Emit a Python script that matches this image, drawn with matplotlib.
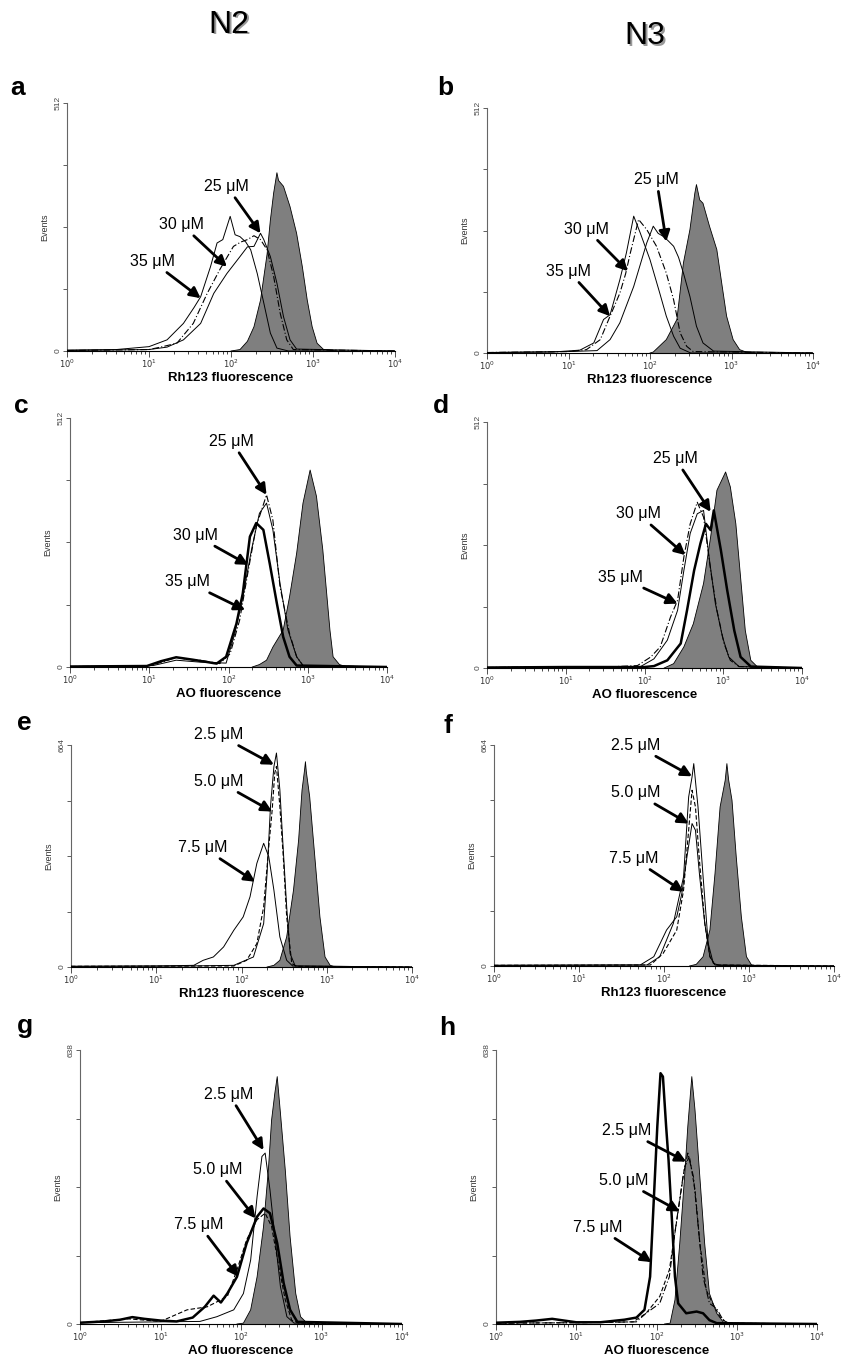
import numpy as np
import matplotlib
matplotlib.use("Agg")
import matplotlib.pyplot as plt

plt.rcParams['font.family'] = ['Liberation Sans', 'DejaVu Sans']

# ---------------- data (x in log10 fluorescence decades, y in events) -------------
panel_ids = ['a', 'b', 'c', 'd', 'e', 'f', 'g', 'h']
column_titles = ['N2', 'N3']
y_max = {'a': 512, 'b': 512, 'c': 512, 'd': 512, 'e': 664, 'f': 664, 'g': 638, 'h': 638}
x_labels = {'a': 'Rh123 fluorescence', 'b': 'Rh123 fluorescence',
            'c': 'AO fluorescence', 'd': 'AO fluorescence',
            'e': 'Rh123 fluorescence', 'f': 'Rh123 fluorescence',
            'g': 'AO fluorescence', 'h': 'AO fluorescence'}
x_tick_values = [1, 10, 100, 1000, 10000]
x_tick_labels = ['$10^{0}$', '$10^{1}$', '$10^{2}$', '$10^{3}$', '$10^{4}$']
conc_high = ['25 μM', '30 μM', '35 μM']
conc_low = ['2.5 μM', '5.0 μM', '7.5 μM']

# panel a
a_ctrl_logx = [2.0, 2.11, 2.20, 2.28, 2.36, 2.44, 2.48, 2.52, 2.56, 2.58, 2.64, 2.72, 2.80, 2.87, 2.93, 2.99, 3.05, 3.13, 3.3]
a_ctrl_y = [0, 3, 20, 50, 105, 200, 270, 326, 368, 352, 340, 298, 243, 174, 105, 50, 16, 3, 0]
a_25_logx = [0.0, 1.0, 1.22, 1.42, 1.63, 1.79, 1.95, 2.11, 2.20, 2.28, 2.36, 2.40, 2.48, 2.56, 2.64, 2.72, 2.80, 4.0]
a_25_y = [1, 3, 8, 23, 57, 119, 160, 195, 215, 216, 243, 230, 195, 140, 71, 23, 4, 0]
a_30_logx = [0.0, 1.0, 1.14, 1.34, 1.54, 1.71, 1.87, 2.03, 2.12, 2.20, 2.28, 2.36, 2.44, 2.52, 2.60, 2.68, 2.76, 4.0]
a_30_y = [1, 3, 8, 16, 57, 119, 170, 216, 225, 230, 238, 230, 209, 154, 78, 23, 3, 0]
a_35_logx = [0.0, 0.6, 1.0, 1.22, 1.42, 1.55, 1.63, 1.75, 1.83, 1.90, 1.99, 2.05, 2.11, 2.18, 2.24, 2.32, 2.40, 2.48, 2.56, 2.7, 4.0]
a_35_y = [2, 3, 9, 23, 57, 90, 112, 174, 223, 230, 278, 240, 236, 225, 209, 160, 99, 37, 6, 0, 0]

# panel b
b_ctrl_logx = [2.0, 2.04, 2.20, 2.33, 2.41, 2.49, 2.55, 2.57, 2.61, 2.65, 2.73, 2.82, 2.88, 2.94, 3.02, 3.10, 3.18, 3.3]
b_ctrl_y = [0, 2, 28, 70, 188, 258, 334, 352, 320, 313, 265, 216, 146, 77, 28, 7, 2, 0]
b_25_logx = [0.0, 1.0, 1.35, 1.51, 1.63, 1.80, 1.96, 2.04, 2.10, 2.16, 2.22, 2.29, 2.35, 2.41, 2.49, 2.57, 2.65, 2.78, 4.0]
b_25_y = [1, 3, 5, 28, 63, 139, 230, 265, 250, 244, 235, 223, 200, 167, 118, 56, 21, 4, 0]
b_30_logx = [0.0, 1.0, 1.22, 1.39, 1.51, 1.63, 1.70, 1.76, 1.86, 1.96, 2.08, 2.20, 2.29, 2.37, 2.45, 2.53, 4.0]
b_30_y = [1, 3, 7, 28, 77, 125, 165, 210, 279, 258, 223, 167, 111, 42, 14, 3, 0]
b_35_logx = [0.0, 0.8, 1.14, 1.31, 1.43, 1.51, 1.55, 1.63, 1.71, 1.80, 1.88, 2.00, 2.12, 2.20, 2.29, 2.37, 2.5, 4.0]
b_35_y = [1, 2, 6, 21, 70, 80, 104, 153, 209, 286, 251, 195, 125, 77, 35, 10, 0, 0]

# panel c
c_ctrl_logx = [2.3, 2.39, 2.48, 2.56, 2.69, 2.77, 2.86, 2.94, 3.03, 3.11, 3.19, 3.28, 3.32, 3.40, 3.5]
c_ctrl_y = [0, 5, 14, 41, 76, 144, 234, 337, 405, 351, 241, 76, 21, 5, 0]
c_25_logx = [0.0, 0.9, 1.01, 1.2, 1.34, 1.5, 1.64, 1.89, 2.02, 2.14, 2.25, 2.35, 2.48, 2.56, 2.65, 2.77, 2.86, 2.94, 4.0]
c_25_y = [1, 2, 3, 12, 20, 15, 14, 7, 27, 96, 199, 289, 354, 302, 165, 69, 21, 3, 0]
c_30_logx = [0.0, 1.05, 1.34, 1.64, 1.97, 2.08, 2.18, 2.29, 2.39, 2.48, 2.56, 2.65, 2.75, 2.86, 2.94, 4.0]
c_30_y = [1, 3, 14, 10, 8, 69, 144, 241, 316, 337, 282, 172, 76, 21, 3, 0]
c_35_logx = [0.0, 0.97, 1.15, 1.34, 1.55, 1.85, 1.97, 2.10, 2.18, 2.27, 2.35, 2.44, 2.52, 2.61, 2.69, 2.77, 2.86, 4.0]
c_35_y = [1, 2, 12, 20, 15, 7, 21, 89, 151, 268, 296, 282, 213, 131, 62, 21, 3, 0]

# panel d
d_ctrl_logx = [2.25, 2.37, 2.50, 2.62, 2.75, 2.84, 2.92, 3.03, 3.09, 3.16, 3.22, 3.28, 3.35, 3.43, 3.5]
d_ctrl_y = [0, 9, 44, 92, 176, 273, 370, 408, 377, 300, 189, 78, 16, 3, 0]
d_25_logx = [0.0, 1.0, 2.0, 2.12, 2.29, 2.46, 2.54, 2.63, 2.71, 2.78, 2.84, 2.88, 2.97, 3.05, 3.14, 3.22, 3.35, 4.0]
d_25_y = [1, 2, 2, 4, 16, 51, 120, 203, 259, 300, 287, 328, 245, 162, 78, 23, 3, 0]
d_30_logx = [0.0, 1.0, 1.95, 2.12, 2.29, 2.42, 2.50, 2.58, 2.67, 2.75, 2.82, 2.90, 2.99, 3.07, 3.2, 4.0]
d_30_y = [1, 2, 3, 19, 58, 120, 203, 280, 321, 328, 231, 134, 65, 23, 3, 0]
d_35_logx = [0.0, 1.0, 1.5, 1.91, 2.08, 2.20, 2.33, 2.42, 2.50, 2.58, 2.67, 2.75, 2.84, 2.92, 3.01, 3.09, 3.2, 4.0]
d_35_y = [1, 3, 2, 5, 23, 44, 106, 141, 231, 300, 345, 314, 203, 120, 51, 16, 3, 0]

# panel e
e_ctrl_logx = [2.30, 2.38, 2.45, 2.53, 2.61, 2.67, 2.71, 2.74, 2.75, 2.76, 2.80, 2.86, 2.92, 2.98, 3.04, 3.1]
e_ctrl_y = [0, 5, 20, 90, 230, 380, 529, 590, 614, 585, 509, 330, 150, 30, 5, 0]
e_25_logx = [0.0, 1.36, 1.91, 2.14, 2.26, 2.30, 2.34, 2.38, 2.41, 2.45, 2.49, 2.53, 2.57, 2.63, 4.0]
e_25_y = [2, 3, 5, 30, 130, 280, 480, 599, 640, 530, 350, 180, 40, 3, 0]
e_50_logx = [0.0, 1.91, 2.06, 2.18, 2.26, 2.32, 2.36, 2.39, 2.41, 2.45, 2.49, 2.53, 2.59, 2.65, 4.0]
e_50_y = [2, 3, 20, 70, 180, 360, 470, 580, 600, 480, 330, 150, 10, 2, 0]
e_75_logx = [0.0, 1.0, 1.44, 1.55, 1.67, 1.79, 1.91, 2.02, 2.10, 2.18, 2.26, 2.32, 2.38, 2.45, 2.53, 2.60, 4.0]
e_75_y = [2, 3, 5, 20, 30, 60, 110, 150, 210, 310, 370, 330, 230, 90, 20, 3, 0]

# panel f
f_ctrl_logx = [2.30, 2.38, 2.46, 2.54, 2.60, 2.66, 2.72, 2.74, 2.76, 2.80, 2.85, 2.91, 2.97, 3.03, 3.1]
f_ctrl_y = [0, 5, 28, 108, 278, 478, 558, 608, 560, 498, 328, 148, 28, 3, 0]
f_25_logx = [0.0, 1.80, 1.95, 2.11, 2.23, 2.29, 2.33, 2.35, 2.40, 2.46, 2.52, 2.58, 2.65, 4.0]
f_25_y = [2, 3, 28, 128, 268, 508, 568, 608, 478, 268, 68, 8, 2, 0]
f_50_logx = [0.0, 1.84, 1.99, 2.15, 2.23, 2.29, 2.33, 2.37, 2.42, 2.48, 2.54, 2.60, 4.0]
f_50_y = [2, 3, 38, 108, 228, 408, 528, 478, 308, 128, 28, 3, 0]
f_75_logx = [0.0, 1.72, 1.88, 2.03, 2.15, 2.21, 2.27, 2.33, 2.37, 2.42, 2.48, 2.54, 2.60, 4.0]
f_75_y = [2, 3, 28, 108, 148, 218, 328, 428, 408, 268, 128, 28, 3, 0]

# panel g
g_ctrl_logx = [1.95, 2.03, 2.12, 2.20, 2.28, 2.34, 2.38, 2.42, 2.45, 2.49, 2.55, 2.61, 2.68, 2.74, 2.82, 2.9]
g_ctrl_y = [0, 2, 33, 110, 227, 359, 475, 537, 576, 491, 359, 203, 71, 17, 2, 0]
g_25_logx = [0.0, 1.0, 1.49, 1.70, 1.91, 2.03, 2.12, 2.20, 2.26, 2.30, 2.36, 2.43, 2.49, 2.57, 2.66, 4.0]
g_25_y = [3, 5, 6, 17, 33, 71, 149, 297, 390, 398, 312, 188, 87, 17, 2, 0]
g_50_logx = [0.0, 0.6, 1.0, 1.33, 1.58, 1.83, 1.95, 2.07, 2.20, 2.30, 2.38, 2.47, 2.55, 2.63, 2.72, 4.0]
g_50_y = [3, 12, 6, 33, 40, 64, 126, 196, 243, 258, 227, 134, 56, 9, 2, 0]
g_75_logx = [0.0, 0.3, 0.5, 0.65, 0.8, 1.0, 1.2, 1.4, 1.55, 1.66, 1.75, 1.83, 1.95, 2.07, 2.20, 2.28, 2.36, 2.45, 2.53, 2.61, 2.70, 4.0]
g_75_y = [3, 6, 10, 16, 12, 8, 6, 15, 40, 66, 50, 71, 110, 188, 250, 269, 258, 188, 95, 33, 5, 0]

# panel h
h_ctrl_logx = [2.10, 2.17, 2.23, 2.29, 2.35, 2.39, 2.44, 2.48, 2.54, 2.60, 2.66, 2.75, 2.83, 2.95]
h_ctrl_y = [0, 2, 56, 188, 343, 460, 576, 498, 343, 188, 71, 25, 5, 0]
h_25_logx = [0.0, 1.0, 1.75, 1.87, 2.04, 2.16, 2.24, 2.33, 2.39, 2.46, 2.52, 2.58, 2.66, 2.75, 2.83, 2.9, 4.0]
h_25_y = [2, 3, 5, 25, 48, 110, 227, 343, 398, 343, 227, 110, 48, 36, 9, 2, 0]
h_50_logx = [0.0, 1.0, 1.71, 1.87, 2.04, 2.16, 2.26, 2.35, 2.41, 2.48, 2.54, 2.62, 2.70, 2.79, 2.88, 4.0]
h_50_y = [2, 3, 5, 25, 64, 126, 250, 366, 390, 312, 188, 79, 48, 17, 2, 0]
h_75_logx = [0.0, 0.3, 0.5, 0.7, 0.85, 1.0, 1.3, 1.6, 1.75, 1.85, 1.92, 1.96, 2.01, 2.05, 2.08, 2.12, 2.15, 2.19, 2.23, 2.27, 2.37, 2.50, 2.58, 2.66, 2.75, 4.0]
h_75_y = [3, 5, 8, 12, 8, 4, 4, 10, 15, 33, 110, 265, 460, 584, 576, 460, 382, 250, 110, 48, 25, 29, 25, 9, 2, 0]

# arrow annotations: (text log x, text y, head log x, head y) per concentration
a_arrows = [(1.95, 340, 2.36, 243), (1.40, 261, 1.95, 174), (1.04, 185, 1.63, 109)]
b_arrows = [(2.08, 362, 2.20, 233), (1.22, 259, 1.73, 171), (1.00, 171, 1.51, 77)]
c_arrows = [(2.04, 464, 2.48, 354), (1.58, 271, 2.25, 210), (1.48, 175, 2.21, 117)]
d_arrows = [(2.39, 436, 2.84, 325), (1.92, 321, 2.52, 235), (1.69, 189, 2.42, 134)]
e_arrows = [(1.73, 695, 2.38, 605), (1.73, 555, 2.36, 465), (1.55, 357, 2.16, 255)]
f_arrows = [(1.67, 663, 2.33, 570), (1.67, 520, 2.29, 428), (1.64, 323, 2.23, 223)]
g_arrows = [(1.85, 535, 2.28, 405), (1.71, 359, 2.18, 246), (1.48, 231, 1.97, 110)]
h_arrows = [(1.63, 450, 2.37, 378), (1.59, 334, 2.29, 262), (1.27, 225, 1.94, 144)]

ctrl = {'a': (a_ctrl_logx, a_ctrl_y), 'b': (b_ctrl_logx, b_ctrl_y), 'c': (c_ctrl_logx, c_ctrl_y),
        'd': (d_ctrl_logx, d_ctrl_y), 'e': (e_ctrl_logx, e_ctrl_y), 'f': (f_ctrl_logx, f_ctrl_y),
        'g': (g_ctrl_logx, g_ctrl_y), 'h': (h_ctrl_logx, h_ctrl_y)}
curves = {'a': [(a_25_logx, a_25_y), (a_30_logx, a_30_y), (a_35_logx, a_35_y)],
          'b': [(b_25_logx, b_25_y), (b_30_logx, b_30_y), (b_35_logx, b_35_y)],
          'c': [(c_25_logx, c_25_y), (c_30_logx, c_30_y), (c_35_logx, c_35_y)],
          'd': [(d_25_logx, d_25_y), (d_30_logx, d_30_y), (d_35_logx, d_35_y)],
          'e': [(e_25_logx, e_25_y), (e_50_logx, e_50_y), (e_75_logx, e_75_y)],
          'f': [(f_25_logx, f_25_y), (f_50_logx, f_50_y), (f_75_logx, f_75_y)],
          'g': [(g_25_logx, g_25_y), (g_50_logx, g_50_y), (g_75_logx, g_75_y)],
          'h': [(h_25_logx, h_25_y), (h_50_logx, h_50_y), (h_75_logx, h_75_y)]}
arrows = {'a': a_arrows, 'b': b_arrows, 'c': c_arrows, 'd': d_arrows,
          'e': e_arrows, 'f': f_arrows, 'g': g_arrows, 'h': h_arrows}

# ---------------- layout & styles ----------------
W, H = 847, 1362
# axes boxes in pixels: left, top, right, bottom
boxes = {'a': (67, 103, 395, 351), 'b': (487, 108, 813, 353),
         'c': (70, 418, 387, 667), 'd': (487, 422, 802, 668),
         'e': (71, 745, 412, 967), 'f': (494, 745, 834, 966),
         'g': (80, 1050, 402, 1324), 'h': (496, 1050, 817, 1324)}
letter_pos = {'a': (18, 95), 'b': (445, 95), 'c': (21, 413), 'd': (441, 413),
              'e': (24, 730), 'f': (448, 733), 'g': (25, 1033), 'h': (447, 1035)}
title_pos = [(229, 25), (645, 36)]

SOLID = dict(color='black', lw=0.7, ls='-')
DASHDOT = dict(color='black', lw=0.8, ls=(0, (6, 2, 1, 2)))
DASHED = dict(color='black', lw=0.8, ls=(0, (4, 2)))
THICK = dict(color='black', lw=1.8, ls='-')
styles = {'a': [SOLID, DASHDOT, SOLID], 'b': [SOLID, DASHDOT, SOLID],
          'c': [DASHDOT, SOLID, THICK], 'd': [THICK, SOLID, DASHDOT],
          'e': [SOLID, DASHED, SOLID], 'f': [SOLID, DASHED, SOLID],
          'g': [SOLID, DASHED, THICK], 'h': [DASHDOT, DASHED, THICK]}

fig = plt.figure(figsize=(W / 100, H / 100), dpi=100)
fig.patch.set_facecolor('white')

for t, (px, py) in zip(column_titles, title_pos):
    fig.text((px + 1.5) / W, 1 - (py + 1.5) / H, t, fontsize=23, ha='center',
             va='center', color='#999999')
    fig.text(px / W, 1 - py / H, t, fontsize=23, ha='center', va='center', color='black')

for pid in panel_ids:
    l, t, r, b = boxes[pid]
    ax = fig.add_axes([l / W, 1 - b / H, (r - l) / W, (b - t) / H])
    ax.set_facecolor('none')
    ym = y_max[pid]
    cx, cy = ctrl[pid]
    cxx = 10 ** np.array(cx)
    ax.fill_between(cxx, 0, cy, facecolor='#7f7f7f', edgecolor='none', zorder=1)
    ax.plot(cxx, cy, color='black', lw=0.6, zorder=2)
    for (lx, yy), st in zip(curves[pid], styles[pid]):
        ax.plot(10 ** np.array(lx), yy, zorder=3, **st)
    labels = conc_high if pid in 'abcd' else conc_low
    for lab, (tx, ty, hx, hy) in zip(labels, arrows[pid]):
        ax.annotate(lab, xy=(10 ** hx, hy), xytext=(10 ** tx, ty), fontsize=11.5,
                    ha='center', va='center', annotation_clip=False, zorder=5,
                    arrowprops=dict(arrowstyle='-|>,head_length=0.55,head_width=0.28',
                                    lw=2.0, color='black', shrinkA=1, shrinkB=0))
    ax.set_xscale('log')
    ax.set_xlim(1, 1e4)
    ax.set_ylim(0, ym)
    ax.set_xticks(x_tick_values)
    ax.set_xticklabels(x_tick_labels)
    ax.set_yticks([0, ym / 4, ym / 2, 3 * ym / 4, ym])
    ax.set_yticklabels(['0', '', '', '', str(ym)], rotation=90, va='center')
    ax.tick_params(axis='x', which='major', direction='out', length=4, width=0.6,
                   labelsize=6, pad=1, colors='#333333')
    ax.tick_params(axis='x', which='minor', direction='out', length=2, width=0.5)
    ax.tick_params(axis='y', direction='out', length=3, width=0.6, labelsize=6,
                   pad=1, colors='#444444')
    for s in ['top', 'right']:
        ax.spines[s].set_visible(False)
    ax.spines['left'].set_color('#666666')
    ax.spines['left'].set_linewidth(0.8)
    ax.spines['bottom'].set_color('black')
    ax.spines['bottom'].set_linewidth(0.8)
    ax.set_ylabel('Events', fontsize=6.5, labelpad=4, color='#333333')
    ax.set_xlabel(x_labels[pid], fontsize=9.5, fontweight='bold', labelpad=1)
    lx_, ly_ = letter_pos[pid]
    fig.text(lx_ / W, 1 - ly_ / H, pid, fontsize=19, fontweight='bold',
             ha='center', va='baseline')

fig.savefig('out.png', dpi=100)
